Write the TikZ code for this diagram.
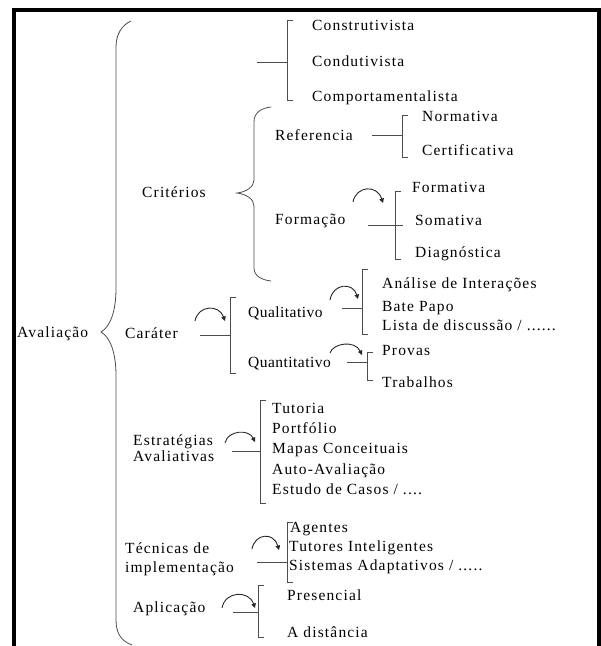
\documentclass[tikz,border=0pt]{standalone}
\usepackage{fontspec}
\setmainfont[LetterSpace=7.5]{Liberation Serif}
\usetikzlibrary{arrows.meta}

\begin{document}
\begin{tikzpicture}[x=1pt,y=-1pt,
  trait/.style = {black!70, line width=0.8pt},
  fleche/.style = {black!85, line width=0.9pt, -{Triangle[length=4.5pt,width=4.5pt]}},
  txt/.style = {anchor=mid west, inner sep=0pt, yshift=-3.5pt, font=\fontsize{15.5}{17}\selectfont},
  txtc/.style = {txt, font=\fontsize{15.5}{17}\selectfont\addfontfeature{LetterSpace=3}}
  ]
\useasboundingbox (0,0) rectangle (601,646);
\draw[line width=4pt] (14,646) -- (14,9.5) -- (599,9.5) -- (599,646);

\node[txt] (aval) at (17,332) {Avaliação};
\draw[trait] (131,21) .. controls (122,25) and (116,34) .. (116,47) -- (116,288)
  .. controls (116,312) and (110,327) .. (101,332)
  .. controls (110,337) and (116,352) .. (116,376) -- (116,620)
  .. controls (116,633) and (121,641) .. (132,645);

% linhas teoricas
\coordinate (g0) at (287,62);
\draw[trait] (257,62) -- (g0);
\draw[trait] (293,20) -- (287,20) -- (287,100) -- (293,100);
\node[txt] (constr) at (312,25) {Construtivista};
\node[txt] (condut) at (312,61) {Condutivista};
\node[txt] (comport) at (312,96) {Comportamentalista};

% criterios
\node[txt] (crit) at (142,192) {Critérios};
\draw[trait] (271,107) .. controls (262,108) and (254,112) .. (254,122) -- (254,180)
  .. controls (254,187) and (246,192) .. (237,193)
  .. controls (246,194) and (254,199) .. (254,206) -- (254,268)
  .. controls (254,276) and (262,280) .. (271,281);

\node[txt] (ref) at (275,135) {Referencia};
\coordinate (g1) at (402,135);
\draw[trait] (372,135) -- (g1);
\draw[trait] (408,115) -- (402,115) -- (402,157) -- (408,157);
\node[txt] (norm) at (422,116) {Normativa};
\node[txt] (cert) at (422,150) {Certificativa};

\node[txt] (form) at (275,219) {Formação};
\draw[fleche] (353,202) .. controls (356,186) and (377,184) .. (383,203);
\coordinate (g2) at (403,225);
\draw[trait] (368,225) -- (g2);
\draw[trait] (401,191) -- (395,191) -- (395,259) -- (401,259);
\node[txt] (formt) at (412,187) {Formativa};
\node[txt] (somat) at (415,220) {Somativa};
\node[txt] (diagn) at (415,252) {Diagnóstica};

% carater
\node[txt] (car) at (125,333) {Caráter};
\draw[fleche] (195,321) .. controls (198,305) and (219,304) .. (225,321);
\coordinate (g3) at (230,335);
\draw[trait] (200,335) -- (g3);
\draw[trait] (236,297) -- (230,297) -- (230,373) -- (236,373);
\node[txtc] (quali) at (248,312) {Qualitativo};
\node[txtc] (quanti) at (248,362) {Quantitativo};

\draw[fleche] (330,300) .. controls (333,283) and (353,282) .. (358,299);
\coordinate (g4) at (362,308);
\draw[trait] (342,308) -- (g4);
\draw[trait] (368,269) -- (362,269) -- (362,334) -- (368,334);
\node[txt] (anal) at (382,283) {Análise de Interações};
\node[txt] (bate) at (382,306) {Bate Papo};
\node[txt] (lista) at (382,325) {Lista de discussão / ......};

\draw[fleche] (330,353) .. controls (333,343) and (355,340) .. (362,355);
\coordinate (g5) at (367,362);
\draw[trait] (347,362) -- (g5);
\draw[trait] (373,352) -- (367,352) -- (367,380) -- (373,380);
\node[txt] (prov) at (382,350) {Provas};
\node[txt] (trab) at (382,382) {Trabalhos};

% estrategias
\node[txt] (estr) at (133,440) {Estratégias};
\node[txt] (estrb) at (133,456) {Avaliativas};
\draw[fleche] (225,443) .. controls (228,430) and (249,429) .. (255,442);
\coordinate (g6) at (260,451);
\draw[trait] (232,451) -- (g6);
\draw[trait] (266,400) -- (260,400) -- (260,503) -- (266,503);
\node[txt] (tut) at (272,408) {Tutoria};
\node[txt] (port) at (272,428) {Portfólio};
\node[txt] (mapas) at (272,448) {Mapas Conceituais};
\node[txt] (auto) at (272,469) {Auto-Avaliação};
\node[txt] (estud) at (272,489) {Estudo de Casos / ....};

% tecnicas
\node[txt] (tec) at (125,548) {Técnicas de};
\node[txt] (tecb) at (125,567) {implementação};
\draw[fleche] (252,549) .. controls (255,533) and (274,532) .. (279,550);
\coordinate (g7) at (287,562);
\draw[trait] (257,562) -- (g7);
\draw[trait] (293,522) -- (287,522) -- (287,582) -- (293,582);
\node[txt] (agen) at (290,527) {Agentes};
\node[txt] (tutin) at (289,546) {Tutores Inteligentes};
\node[txt] (sist) at (289,565) {Sistemas Adaptativos / .....};

% aplicacao
\node[txt] (apl) at (133,607) {Aplicação};
\draw[fleche] (222,608) .. controls (225,591) and (249,590) .. (255,608);
\coordinate (g8) at (258,612);
\draw[trait] (233,612) -- (g8);
\draw[trait] (264,585) -- (258,585) -- (258,637) -- (264,637);
\node[txt] (pres) at (287,595) {Presencial};
\node[txt] (dist) at (287,632) {A distância};
\end{tikzpicture}
\end{document}
